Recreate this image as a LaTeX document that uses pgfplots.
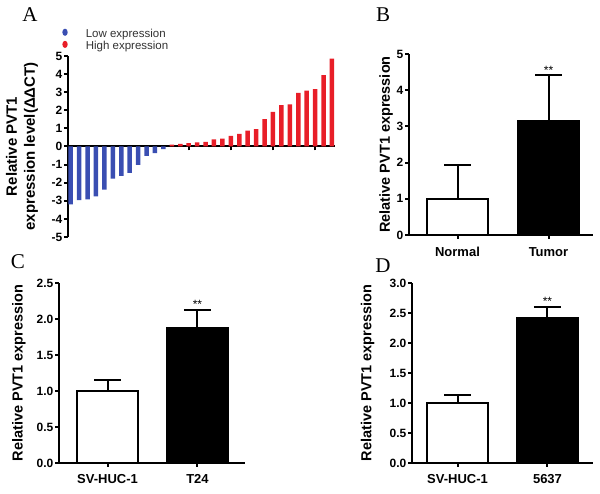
\documentclass[border=0pt]{standalone}
\usepackage{pgfplots}
\pgfplotsset{compat=1.18}
\usepackage{fontspec}
\setmainfont{Liberation Sans}
\newfontfamily\serifletter{Liberation Serif}
\definecolor{lowblue}{RGB}{58,78,178}
\definecolor{highred}{RGB}{232,30,40}
\definecolor{legtext}{RGB}{50,50,50}

\pgfplotsset{
  panel/.style={
    scale only axis,
    anchor=south west,
    axis line style={-, line width=2pt},
    every tick/.style={line width=2pt, black},
    major tick length=4pt,
    tick align=outside,
    clip=false,
    /pgf/number format/assume math mode=true,
    yticklabel style={font=\bfseries\fontsize{12}{12}\selectfont, inner sep=1.5pt},
    xticklabel style={font=\bfseries\fontsize{13}{13}\selectfont},
  },
  barpanel/.style={
    panel,
    axis x line*=bottom, axis y line*=left,
    ymin=0, xtick={0,1},
  },
  ylab/.style={
    every axis y label/.style={at={(axis description cs:0,0.5)}, xshift=#1, rotate=90, anchor=center,
      font=\bfseries\fontsize{14.5}{14.5}\selectfont},
  },
  whitebar/.style={ybar, bar width=61pt, bar shift=0pt, fill=white, draw=black, line width=2pt,
    error bars/.cd, y dir=plus, y explicit,
    error bar style={line width=2pt, black},
    error mark options={rotate=90, mark size=13.5pt, line width=2pt, black}},
  blackbar/.style={ybar, bar width=61pt, bar shift=0pt, fill=black, draw=black, line width=2pt,
    error bars/.cd, y dir=plus, y explicit,
    error bar style={line width=2pt, black},
    error mark options={rotate=90, mark size=13.5pt, line width=2pt, black}},
}

\begin{document}
\begin{tikzpicture}[x=1pt,y=1pt]
\path[use as bounding box] (0,0) rectangle (600,494);

% Panel letters
\node[font=\serifletter\fontsize{21}{21}\selectfont, inner sep=0pt] at (30,479) {A};
\node[font=\serifletter\fontsize{21}{21}\selectfont, inner sep=0pt] at (383,479.5) {B};
\node[font=\serifletter\fontsize{21}{21}\selectfont, inner sep=0pt] at (18,232) {C};
\node[font=\serifletter\fontsize{21}{21}\selectfont, inner sep=0pt] at (383,228.5) {D};

% ---------------- Panel A ----------------
\begin{axis}[panel,
  at={(68pt,257pt)}, width=267pt, height=181pt,
  xmin=0.68, xmax=32.36, ymin=-5, ymax=5,
  axis x line*=middle, axis y line*=left,
  ytick={-5,-4,...,5},
  xtick={5,10,15,20,25,30}, xticklabels={},
  every axis y label/.style={at={(axis description cs:0,0.5)}, xshift=-46pt, rotate=90, anchor=center,
    align=center, font=\bfseries\fontsize{15}{18}\selectfont},
  ylabel={Relative PVT1\\expression level(ΔΔCT)},
  legend style={at={(axis description cs:-0.022,1.152)}, anchor=north west,
    draw=none, fill=none, inner sep=0pt, row sep=0pt,
    nodes={inner sep=0.5pt, text height=7.5pt, text depth=2.5pt, font=\fontsize{11.5}{11.5}\selectfont, text=legtext}},
  legend cell align=left,
]
\addplot[ybar, bar width=4.5pt, bar shift=0pt, fill=lowblue, draw=none,
  legend image code/.code={\path (0pt,0pt) (23pt,0pt); \fill[lowblue] (2.7pt,3pt) ellipse (2.7pt and 3.6pt);}]
  coordinates {(1,-3.20) (2,-2.97) (3,-2.92) (4,-2.75) (5,-2.38) (6,-1.77)
               (7,-1.62) (8,-1.46) (9,-1.02) (10,-0.52) (11,-0.37) (12,-0.15)};
\addlegendentry{Low expression}
\addplot[ybar, bar width=4.5pt, bar shift=0pt, fill=highred, draw=none,
  legend image code/.code={\path (0pt,0pt) (23pt,0pt); \fill[highred] (2.7pt,3pt) ellipse (2.7pt and 3.6pt);}]
  coordinates {(13,0.10) (14,0.15) (15,0.18) (16,0.23) (17,0.26) (18,0.40)
               (19,0.43) (20,0.58) (21,0.70) (22,0.87) (23,0.96) (24,1.51)
               (25,1.91) (26,2.28) (27,2.32) (28,2.96) (29,3.08) (30,3.17)
               (31,3.94) (32,4.86)};
\addlegendentry{High expression}
\end{axis}

% ---------------- Panel B ----------------
\begin{axis}[barpanel, ylab=-23pt,
  at={(409pt,259pt)}, width=184pt, height=181pt,
  xmin=-0.533, xmax=1.489, ymax=5,
  ytick={0,1,...,5},
  xticklabels={Normal,Tumor},
  xticklabel style={yshift=-5pt},
  ylabel={Relative PVT1 expression},
]
\addplot[whitebar] coordinates {(0,1.0) +- (0,0.92)};
\addplot[blackbar] coordinates {(1,3.15) +- (0,1.27)};
\node[font=\fontsize{12}{12}\selectfont, anchor=base, inner sep=0pt] at (axis cs:1,4.42) {**};
\end{axis}

% ---------------- Panel C ----------------
\begin{axis}[barpanel, ylab=-40pt,
  at={(59pt,31pt)}, width=186pt, height=180pt,
  xmin=-0.539, xmax=1.528, ymax=2.5,
  ytick={0,0.5,...,2.5},
  yticklabel style={/pgf/number format/.cd, fixed, fixed zerofill, precision=1},
  xticklabels={SV-HUC-1,T24},
  xticklabel style={yshift=-4pt},
  ylabel={Relative PVT1 expression},
]
\addplot[whitebar] coordinates {(0,1.0) +- (0,0.15)};
\addplot[blackbar] coordinates {(1,1.87) +- (0,0.25)};
\node[font=\fontsize{12}{12}\selectfont, anchor=base, inner sep=0pt] at (axis cs:1,2.15) {**};
\end{axis}

% ---------------- Panel D ----------------
\begin{axis}[barpanel, ylab=-44.5pt,
  at={(412pt,31pt)}, width=181pt, height=180pt,
  xmin=-0.506, xmax=1.506, ymax=3.0,
  ytick={0,0.5,...,3.0},
  yticklabel style={/pgf/number format/.cd, fixed, fixed zerofill, precision=1},
  xticklabels={SV-HUC-1,5637},
  xticklabel style={yshift=-4pt},
  ylabel={Relative PVT1 expression},
]
\addplot[whitebar] coordinates {(0,1.0) +- (0,0.13)};
\addplot[blackbar] coordinates {(1,2.41) +- (0,0.19)};
\node[font=\fontsize{12}{12}\selectfont, anchor=base, inner sep=0pt] at (axis cs:1,2.62) {**};
\end{axis}
\end{tikzpicture}
\end{document}
